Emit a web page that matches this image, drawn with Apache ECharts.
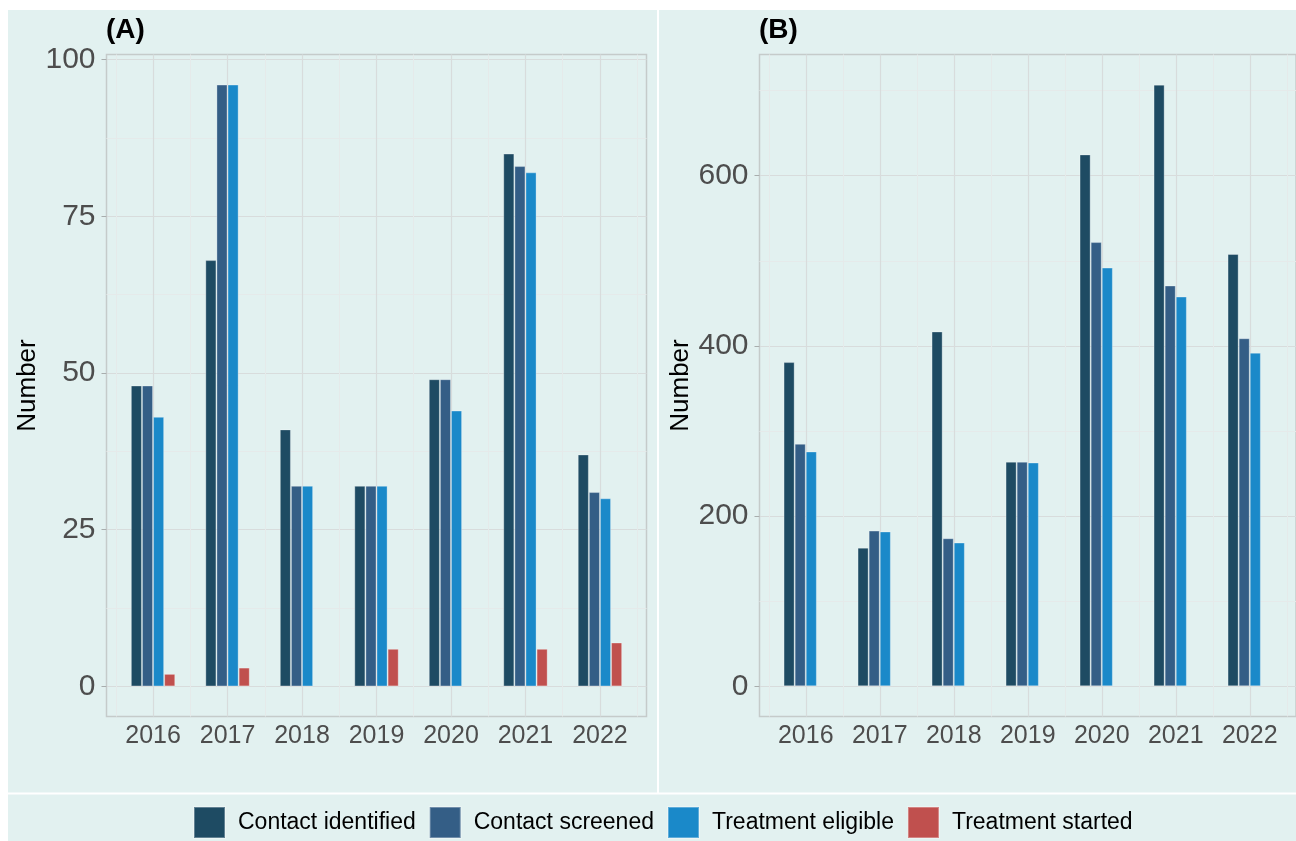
<!DOCTYPE html>
<html>
<head>
<meta charset="utf-8">
<script src="https://cdn.jsdelivr.net/npm/echarts@6/dist/echarts.min.js"></script>
<style>
html,body{margin:0;padding:0;background:#fff;}
#chart{width:1296px;height:841px;}
</style>
</head>
<body>
<div id="chart"></div>
<script>
// ---- data ----
const years = ['2016', '2017', '2018', '2019', '2020', '2021', '2022'];
const seriesNames = ['Contact identified', 'Contact screened', 'Treatment eligible', 'Treatment started'];

const aIdentified = [48, 68, 41, 32, 49, 85, 37];
const aScreened   = [48, 96, 32, 32, 49, 83, 31];
const aEligible   = [43, 96, 32, 32, 44, 82, 30];
const aStarted    = [2, 3, 0, 6, 0, 6, 7];

const bIdentified = [381, 163, 417, 264, 625, 707, 508];
const bScreened   = [285, 183, 174, 264, 522, 471, 409];
const bEligible   = [276, 182, 169, 263, 492, 458, 392];
const bStarted    = [0, 0, 0, 0, 0, 0, 0];

const aTicks = [0, 25, 50, 75, 100];
const aMinorTicks = [12.5, 37.5, 62.5, 87.5];
const bTicks = [0, 200, 400, 600];
const bMinorTicks = [100, 300, 500, 700];

// ---- styling ----
const colors = ['#1e4b63', '#345e86', '#1a89c9', '#c0504e'];
const BG = '#e2f1f0';
const FONT = '"Liberation Sans", Arial, sans-serif';
const majorGrid = '#d8dcdc';
const minorGrid = '#e5eaea';

const xPos = years.map((_, i) => i + 1);
const xMinor = years.map((_, i) => i + 0.5).concat([years.length + 0.5]);

function xAxes(gridIndex) {
  return [
    {
      gridIndex, type: 'value', min: 0.375, max: years.length + 0.625,
      axisLine: { show: false },
      axisTick: { show: false, customValues: xPos },
      axisLabel: {
        customValues: xPos, formatter: v => years[Math.round(v) - 1],
        fontSize: 25, color: '#4d4d4d', fontFamily: FONT, margin: 7
      },
      splitLine: { show: true, lineStyle: { color: majorGrid, width: 1.2 } }
    },
    {
      gridIndex, type: 'value', min: 0.375, max: years.length + 0.625, position: 'bottom',
      axisLine: { show: false },
      axisTick: { show: false, customValues: xMinor },
      axisLabel: { show: false, customValues: xMinor },
      splitLine: { show: true, lineStyle: { color: minorGrid, width: 1 } }
    }
  ];
}

function yAxes(gridIndex, min, max, ticks, minor) {
  return [
    {
      gridIndex, type: 'value', min, max,
      name: 'Number', nameLocation: 'middle', nameGap: 66,
      nameTextStyle: { fontSize: 26, color: '#000', fontFamily: FONT },
      axisLine: { show: false },
      axisTick: { show: true, length: 5, customValues: ticks, lineStyle: { color: '#a8adad', width: 1 } },
      axisLabel: { customValues: ticks, fontSize: 30, color: '#4d4d4d', fontFamily: FONT, margin: 11 },
      splitLine: { show: true, lineStyle: { color: majorGrid, width: 1.2 } }
    },
    {
      gridIndex, type: 'value', min, max, position: 'left',
      axisLine: { show: false },
      axisTick: { show: false, customValues: minor },
      axisLabel: { show: false, customValues: minor },
      splitLine: { show: true, lineStyle: { color: minorGrid, width: 1 } }
    }
  ];
}

function barSeries(name, values, color, xIdx, yIdx) {
  return {
    name, type: 'bar', xAxisIndex: xIdx, yAxisIndex: yIdx,
    data: values.map((v, i) => [i + 1, v === 0 ? null : v]),
    barWidth: 11.1, barGap: '0%',
    itemStyle: { color, borderColor: 'rgba(255,255,255,0.3)', borderWidth: 1 },
    emphasis: { disabled: true },
    z: 3
  };
}

const aData = [aIdentified, aScreened, aEligible, aStarted];
const bData = [bIdentified, bScreened, bEligible, bStarted];

const series = [];
aData.forEach((d, k) => series.push(barSeries(seriesNames[k], d, colors[k], 0, 0)));
bData.forEach((d, k) => series.push(barSeries(seriesNames[k], d, colors[k], 2, 2)));

const chart = echarts.init(document.getElementById('chart'), null, { renderer: 'canvas' });
chart.setOption({
  backgroundColor: BG,
  animation: false,
  textStyle: { fontFamily: FONT },
  grid: [
    { left: 106.5, top: 54.5, width: 540, height: 662, show: true, borderColor: '#c5cbca', borderWidth: 1.5, backgroundColor: 'transparent' },
    { left: 759.5, top: 54.5, width: 540.5, height: 662, show: true, borderColor: '#c5cbca', borderWidth: 1.5, backgroundColor: 'transparent' }
  ],
  xAxis: xAxes(0).concat(xAxes(1)),
  yAxis: yAxes(0, -4.8, 100.8, aTicks, aMinorTicks).concat(yAxes(1, -35.4, 742.4, bTicks, bMinorTicks)),
  legend: {
    data: seriesNames, left: 193, top: 806, padding: 0,
    icon: 'rect', itemWidth: 31, itemHeight: 31, itemGap: 13,
    textStyle: { fontSize: 23, color: '#000', fontFamily: FONT, padding: [0, 0, 0, 8] },
    selectedMode: false
  },
  graphic: [
    { type: 'rect', shape: { x: 0, y: 0, width: 1296, height: 10 }, style: { fill: '#fff' }, silent: true },
    { type: 'rect', shape: { x: 0, y: 0, width: 8, height: 841 }, style: { fill: '#fff' }, silent: true },
    { type: 'rect', shape: { x: 657, y: 10, width: 2, height: 783 }, style: { fill: '#fff' }, silent: true },
    { type: 'rect', shape: { x: 8, y: 792.5, width: 1288, height: 2 }, style: { fill: '#fff' }, silent: true },
    { type: 'text', x: 106, y: 30, style: { text: '(A)', fontSize: 28, fontWeight: 'bold', fill: '#000', fontFamily: FONT, verticalAlign: 'middle' } },
    { type: 'text', x: 759, y: 30, style: { text: '(B)', fontSize: 28, fontWeight: 'bold', fill: '#000', fontFamily: FONT, verticalAlign: 'middle' } }
  ],
  series
});
</script>
</body>
</html>
